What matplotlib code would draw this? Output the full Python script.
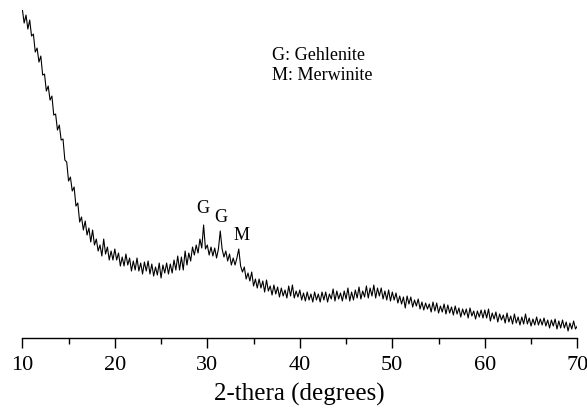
import numpy as np
import matplotlib
matplotlib.use("Agg")
import matplotlib.pyplot as plt
from matplotlib.ticker import MultipleLocator

plt.rcParams['font.family'] = ['Liberation Serif', 'DejaVu Serif']

# 2-theta scan, 0.2 degree steps from 10 to 70
two_theta = np.linspace(10, 70, 301)

# intensity (arbitrary units), 10 points per row = 2 degrees
intensity = [
    333, 319, 327, 313, 322, 306, 308, 290, 294, 280,   # 10-12
    286, 267, 268, 251, 256, 242, 246, 227, 228, 212,   # 12-14
    217, 202, 203, 182, 180, 161, 165, 151, 155, 136,   # 14-16
    139, 120, 125, 112, 121, 107, 114, 100, 112, 97,    # 16-18
    103, 91, 97, 86, 103, 88, 95, 82, 91, 82,           # 18-20
    93, 82, 89, 76, 85, 76, 88, 77, 84, 71,             # 20-22
    81, 72, 84, 71, 79, 68, 80, 71, 81, 68,             # 22-24
    78, 66, 75, 67, 79, 64, 77, 69, 79, 68,             # 24-26
    78, 69, 82, 72, 86, 72, 85, 72, 91, 77,             # 26-28
    89, 81, 95, 87, 97, 89, 103, 94, 117, 93,           # 28-30
    97, 87, 95, 86, 94, 84, 93, 111, 93, 85,            # 30-32
    91, 81, 88, 77, 84, 77, 84, 93, 76, 70,             # 32-34
    75, 63, 69, 61, 70, 56, 63, 54, 63, 54,             # 34-36
    61, 50, 62, 51, 56, 47, 57, 48, 55, 45,             # 36-38
    54, 46, 52, 44, 56, 46, 57, 44, 51, 45,             # 38-40
    52, 42, 49, 41, 50, 42, 48, 40, 50, 42,             # 40-42
    48, 40, 50, 42, 50, 40, 48, 43, 53, 41,             # 42-44
    51, 43, 49, 41, 51, 43, 54, 41, 50, 42,             # 44-46
    52, 44, 55, 43, 51, 45, 56, 44, 54, 46,             # 46-48
    57, 44, 54, 46, 54, 43, 51, 42, 52, 41,             # 48-50
    50, 42, 49, 39, 46, 38, 45, 34, 46, 38,             # 50-52
    45, 35, 42, 36, 43, 33, 40, 32, 39, 33,             # 52-54
    38, 30, 40, 31, 39, 29, 36, 30, 38, 28,             # 54-56
    37, 29, 35, 27, 36, 28, 34, 25, 33, 27,             # 56-58
    33, 24, 34, 26, 31, 23, 31, 25, 32, 24,             # 58-60
    32, 24, 33, 21, 29, 23, 30, 20, 28, 22,             # 60-62
    27, 19, 29, 20, 26, 18, 28, 19, 25, 17,             # 62-64
    25, 18, 28, 18, 24, 16, 23, 17, 25, 17,             # 64-66
    23, 17, 24, 16, 22, 14, 22, 16, 23, 13,             # 66-68
    21, 14, 22, 14, 20, 11, 19, 13, 21, 13,             # 68-70
    16,
]

# phase labels over the peaks
peak_labels = ['G', 'G', 'M']
peak_x = [29.5, 31.5, 33.7]
peak_y = [134, 125, 107]

legend_lines = ['G: Gehlenite', 'M: Merwinite']

fig = plt.figure(figsize=(5.87, 4.12), dpi=100)
ax = fig.add_axes([0.038, 0.1796, 0.9455, 0.796])

ax.plot(two_theta, intensity, color='black', linewidth=0.8)

for lab, px, py in zip(peak_labels, peak_x, peak_y):
    ax.text(px, py, lab, fontsize=13, ha='center', va='center')

ax.text(37.0, 282, legend_lines[0], fontsize=13, va='baseline')
ax.text(37.0, 262, legend_lines[1], fontsize=13, va='baseline')

ax.set_xlim(10, 70)
ax.set_ylim(4, 332)
ax.xaxis.set_major_locator(MultipleLocator(10))
ax.xaxis.set_minor_locator(MultipleLocator(5))
ax.tick_params(axis='x', which='major', direction='out', length=7, width=1,
               labelsize=16, pad=6)
ax.tick_params(axis='x', which='minor', direction='out', length=4, width=1)
ax.set_yticks([])
for side in ['left', 'right', 'top']:
    ax.spines[side].set_visible(False)
ax.spines['bottom'].set_linewidth(1)

ax.set_xlabel('2-thera (degrees)', fontsize=18, labelpad=6)

fig.savefig('out.png', dpi=100)
